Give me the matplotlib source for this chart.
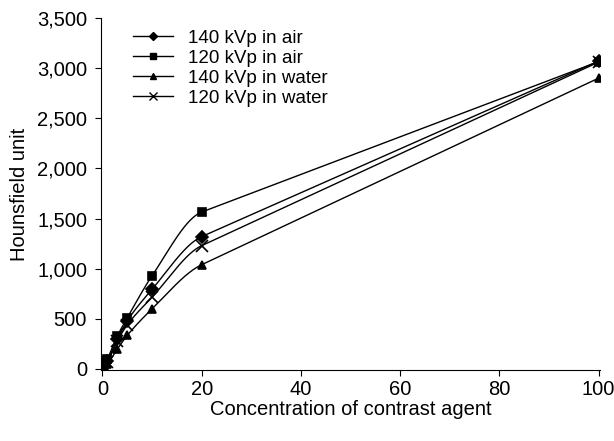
import numpy as np
import matplotlib.pyplot as plt
from matplotlib.ticker import FuncFormatter

plt.rcParams['font.family'] = ['Liberation Sans', 'DejaVu Sans']

# data
concentration = [0, 1, 3, 5, 10, 20, 100]
hu_140_air = [0, 80, 300, 480, 795, 1320, 3070]
hu_120_air = [0, 100, 330, 510, 930, 1565, 3065]
hu_140_water = [0, 50, 200, 335, 600, 1040, 2900]
hu_120_water = [0, 70, 280, 440, 716, 1230, 3060]

labels = ['140 kVp in air', '120 kVp in air', '140 kVp in water', '120 kVp in water']
markers = ['D', 's', '^', 'x']


def smooth(x, y, xs):
    # cubic hermite through the points, last span kept straight
    x = np.asarray(x, float)
    y = np.asarray(y, float)
    h = np.diff(x)
    d = np.diff(y) / h
    m = np.zeros_like(y)
    for k in range(1, len(x) - 1):
        if d[k - 1] * d[k] > 0:
            w1 = 2 * h[k] + h[k - 1]
            w2 = h[k] + 2 * h[k - 1]
            m[k] = (w1 + w2) / (w1 / d[k - 1] + w2 / d[k])
    m[0] = d[0]
    m[-1] = d[-1]
    m[-2] = d[-1]
    idx = np.clip(np.searchsorted(x, xs) - 1, 0, len(h) - 1)
    t = (xs - x[idx]) / h[idx]
    h00 = 2 * t**3 - 3 * t**2 + 1
    h10 = t**3 - 2 * t**2 + t
    h01 = -2 * t**3 + 3 * t**2
    h11 = t**3 - t**2
    return h00 * y[idx] + h10 * h[idx] * m[idx] + h01 * y[idx + 1] + h11 * h[idx] * m[idx + 1]


fig = plt.figure(figsize=(6.14, 4.41), dpi=100)
ax = fig.add_axes([101 / 614, 71 / 441, 499 / 614, 352 / 441])

xs = np.linspace(0, 100, 800)
for ys, lab, mk in zip([hu_140_air, hu_120_air, hu_140_water, hu_120_water], labels, markers):
    ax.plot(xs, smooth(concentration, ys, xs), color='black', lw=1.0)
    ms = 8 if mk == 'x' else 6
    ax.plot(concentration, ys, linestyle='none', marker=mk, color='black', ms=ms, mew=1.2)
    lms = 6 if mk == 'x' else 4.5
    ax.plot([], [], color='black', lw=1.0, marker=mk, ms=lms, mew=1.0, label=lab)

ax.set_xlim(-0.3, 100.3)
ax.set_ylim(-10, 3500)
ax.set_xticks([0, 20, 40, 60, 80, 100])
ax.set_yticks(np.arange(0, 3501, 500))
ax.yaxis.set_major_formatter(FuncFormatter(lambda v, p: f'{int(v):,}'))
ax.spines['top'].set_visible(False)
ax.spines['right'].set_visible(False)
ax.tick_params(direction='out', labelsize=14.5, length=4)
ax.tick_params(axis='y', pad=6)
ax.tick_params(axis='x', pad=3)
ax.set_xlabel('Concentration of contrast agent', fontsize=14.5, labelpad=1)
ax.set_ylabel('Hounsfield unit', fontsize=14.5, labelpad=6)

ax.legend(loc='upper left', bbox_to_anchor=(0.035, 1.01), frameon=False, fontsize=13.5,
          handlelength=2.1, labelspacing=0.16, borderpad=0.3, handletextpad=0.8)

fig.savefig('out.png', dpi=100)
